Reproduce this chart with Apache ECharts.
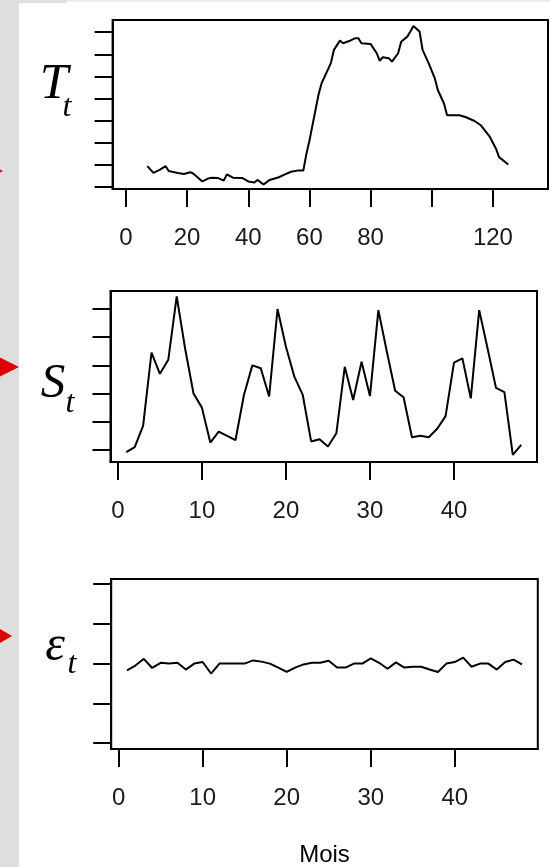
<!DOCTYPE html>
<html>
<head>
<meta charset="utf-8">
<style>
html,body{margin:0;padding:0;background:#fff;}
#main{width:550px;height:867px;}
</style>
<script src="https://cdn.jsdelivr.net/npm/echarts@6/dist/echarts.min.js"></script>
</head>
<body>
<div id="main"></div>
<script>
// T_t : points relevés sur la courbe de tendance (mois, valeur en pas de graduation)
var tMois = [7,9,11,13,14,17,19,21,22,25,27,28,30,32,33,35,38,40,42,43,45,47,50,52,54,56,58,59,60,61,62,63,64,65,66,67,68,70,71,73,75,76,77,80,82,83,84,86,87,89,90,92,93,94,96,97,99,101,102,104,105,109,111,114,116,119,121,122,125];
var tVal = [0.95,0.65,0.78,0.95,0.73,0.64,0.60,0.68,0.62,0.26,0.40,0.43,0.42,0.30,0.58,0.43,0.42,0.26,0.21,0.33,0.12,0.33,0.45,0.58,0.70,0.75,0.75,1.5,2.1,2.8,3.5,4.2,4.7,5.0,5.3,5.6,6.2,6.62,6.5,6.6,6.73,6.73,6.5,6.47,6.05,5.71,5.87,5.82,5.67,6.05,6.57,6.8,7.03,7.28,7.03,6.2,5.59,4.91,4.38,3.78,3.25,3.25,3.17,2.99,2.8,2.27,1.74,1.36,1.03];

// S_t : saisonnalité, mois 1..48
var sVal = [-0.08,0.1,0.85,3.45,2.7,3.2,5.45,3.6,2.0,1.5,
            0.26,0.65,0.5,0.35,1.95,3.0,2.9,1.9,5.0,3.66,
            2.6,1.95,0.3,0.38,0.12,0.59,2.95,1.77,3.13,1.91,
            4.96,3.5,2.1,1.87,0.45,0.5,0.45,0.75,1.2,3.1,
            3.25,1.83,4.96,3.6,2.2,2.05,-0.18,0.18];

// epsilon_t : résidus, mois 1..48
var eVal = [-0.17,-0.05,0.12,-0.11,0.02,0.0,0.02,-0.15,0.0,0.04,
            -0.25,0.0,0.0,0.0,0.0,0.08,0.05,0.0,-0.1,-0.21,
            -0.1,-0.02,0.02,0.02,0.07,-0.1,-0.1,0.0,0.0,0.13,
            0.02,-0.13,0.03,-0.1,-0.08,-0.08,-0.15,-0.21,0.0,0.04,
            0.15,-0.08,0.0,0.0,-0.15,0.04,0.1,-0.02];

var xTickT = [0,20,40,60,80,100,120];
var xLabT = [0,20,40,60,80,120];
var xTickS = [0,10,20,30,40];
var yTickT = [0,1,2,3,4,5,6,7];
var yTickS = [0,1,2,3,4,5];
var yTickE = [-2,-1,0,1,2];

var chart = echarts.init(document.getElementById('main'), null, {renderer:'canvas'});

function grid(l,t,w,h){
    return {left:l, top:t, width:w, height:h, show:true, borderColor:'#000', borderWidth:2, backgroundColor:'transparent'};
}
function xAx(g,min,max,ticks,labels){
    return {
        type:'value', gridIndex:g, min:min, max:max,
        axisLine:{show:true, onZero:false, lineStyle:{color:'#000', width:2}},
        splitLine:{show:false},
        axisTick:{show:true, inside:false, length:18, customValues:ticks, lineStyle:{color:'#000', width:2}},
        axisLabel:{show:true, customValues:labels, margin:37, fontFamily:'Liberation Sans', fontSize:24, color:'#1a1a1a'}
    };
}
function yAx(g,min,max,ticks){
    return {
        type:'value', gridIndex:g, min:min, max:max,
        axisLine:{show:true, onZero:false, lineStyle:{color:'#000', width:2}},
        splitLine:{show:false},
        axisTick:{show:true, inside:false, length:18, customValues:ticks, lineStyle:{color:'#000', width:2}},
        axisLabel:{show:false}
    };
}
function serie(g,data){
    return {type:'line', xAxisIndex:g, yAxisIndex:g, data:data, symbol:'none', showSymbol:false,
        lineStyle:{color:'#000', width:2}, silent:true};
}
function txt(s,x,y,size,family,style){
    return {type:'text', z:100, style:{text:s, x:x, y:y, font:(style||'')+' '+size+'px '+family, fill:'#000',
        align:'center', verticalAlign:'middle', textAlign:'center', textVerticalAlign:'middle'}};
}

var serif = '"Liberation Serif", "DejaVu Serif", serif';

var option = {
    animation:false,
    backgroundColor:'#fff',
    grid:[grid(112.6,20,435.4,169), grid(110.5,291,426.5,171), grid(111.2,579,426.6,170)],
    xAxis:[xAx(0,-4.35,138.0,xTickT,xLabT), xAx(1,-0.88,49.88,xTickS,xTickS), xAx(2,-0.88,49.88,xTickS,xTickS)],
    yAxis:[yAx(0,-0.08,7.55,yTickT), yAx(1,-0.43,5.64,yTickS), yAx(2,-2.15,2.13,yTickE)],
    series:[
        serie(0, tMois.map(function(m,i){return [m,tVal[i]];})),
        serie(1, sVal.map(function(v,i){return [i+1,v];})),
        serie(2, eVal.map(function(v,i){return [i+1,v];}))
    ],
    graphic:[
        {type:'rect', z:-10, shape:{x:0,y:0,width:19,height:867}, style:{fill:'#dedede'}},
        {type:'rect', z:-10, shape:{x:19,y:0,width:47,height:3}, style:{fill:'#dedede'}},
        {type:'rect', z:-10, shape:{x:66,y:0,width:484,height:2}, style:{fill:'#ececec'}},
        {type:'polygon', z:50, shape:{points:[[-16,161],[3,171],[-16,181]]}, style:{fill:'#dd0000'}},
        {type:'polygon', z:50, shape:{points:[[-5,355],[19,367],[-5,379]]}, style:{fill:'#dd0000'}},
        {type:'polygon', z:50, shape:{points:[[-5,626],[12,636],[-5,646]]}, style:{fill:'#dd0000'}},
        txt('T',54,85,51,serif,'italic'),
        txt('t',67,108,32,serif,'italic'),
        txt('S',53,384,49,serif,'italic'),
        txt('t',70,404,32,serif,'italic'),
        txt('\u03b5',55,647,50,serif,'italic'),
        txt('t',72,665,32,serif,'italic'),
        txt('Mois',324.5,855,24,'"Liberation Sans", sans-serif','')
    ]
};
chart.setOption(option);
</script>
</body>
</html>
